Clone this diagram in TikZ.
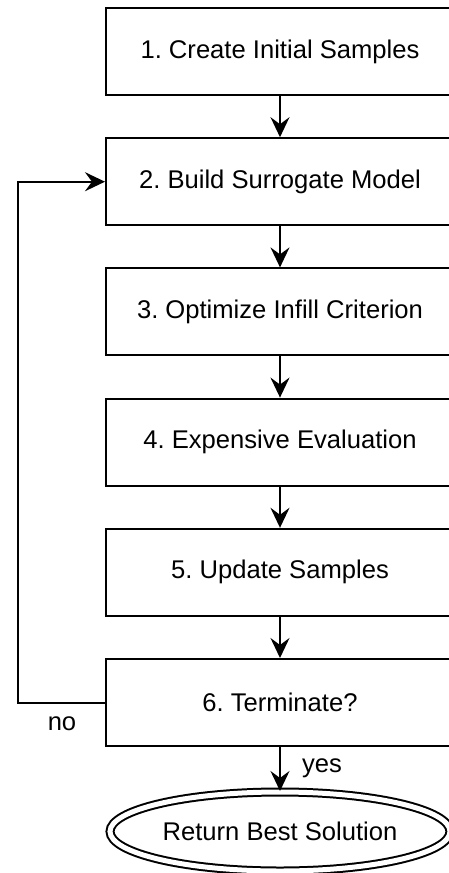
\documentclass[tikz,border=0pt]{standalone}
\usepackage{fontspec}
\setmainfont{Liberation Sans}
\usetikzlibrary{positioning}
\usetikzlibrary{arrows.meta}
\usetikzlibrary{shapes.geometric}
\frenchspacing

\begin{document}
\begin{tikzpicture}[x=0.5pt, y=-0.5pt, line width=1pt,
		stepbox/.style={draw, rectangle, minimum width=174pt, minimum height=43.5pt, font=\fontsize{12.8}{15}\selectfont},
		lbl/.style={font=\fontsize{12.8}{15}\selectfont},
		flow/.style={-{Stealth[length=10pt, width=9.5pt, inset=3.5pt]}}]
			\useasboundingbox (0,0) rectangle (449,873);

			\node[stepbox] (S1) at (280,51.5) {1. Create Initial Samples};
			\node[stepbox] (S2) at (280,181.7) {2. Build Surrogate Model};
			\node[stepbox] (S3) at (280,311.9) {3. Optimize Infill Criterion};
			\node[stepbox] (S4) at (280,442.1) {4. Expensive Evaluation};
			\node[stepbox] (S5) at (280,572.3) {5. Update Samples};
			\node[stepbox] (S6) at (280,702.5) {6. Terminate?};
			\node[draw, ellipse, double, double distance=2.5pt, inner sep=0pt, minimum width=170pt, minimum height=39.5pt, lbl] (R) at (280,831.5) {Return Best Solution};

			\draw[flow] (S1) -- (S2);
			\draw[flow] (S2) -- (S3);
			\draw[flow] (S3) -- (S4);
			\draw[flow] (S4) -- (S5);
			\draw[flow] (S5) -- (S6);
			\draw[flow] (S6) -- (R);
			\draw[flow] (S6.west) -- ++(-87,0) |- (S2.west);

			\node[lbl] (no) at (62,724) {no};
			\node[lbl] (yes) at (322,768) {yes};
		\end{tikzpicture}
\end{document}
